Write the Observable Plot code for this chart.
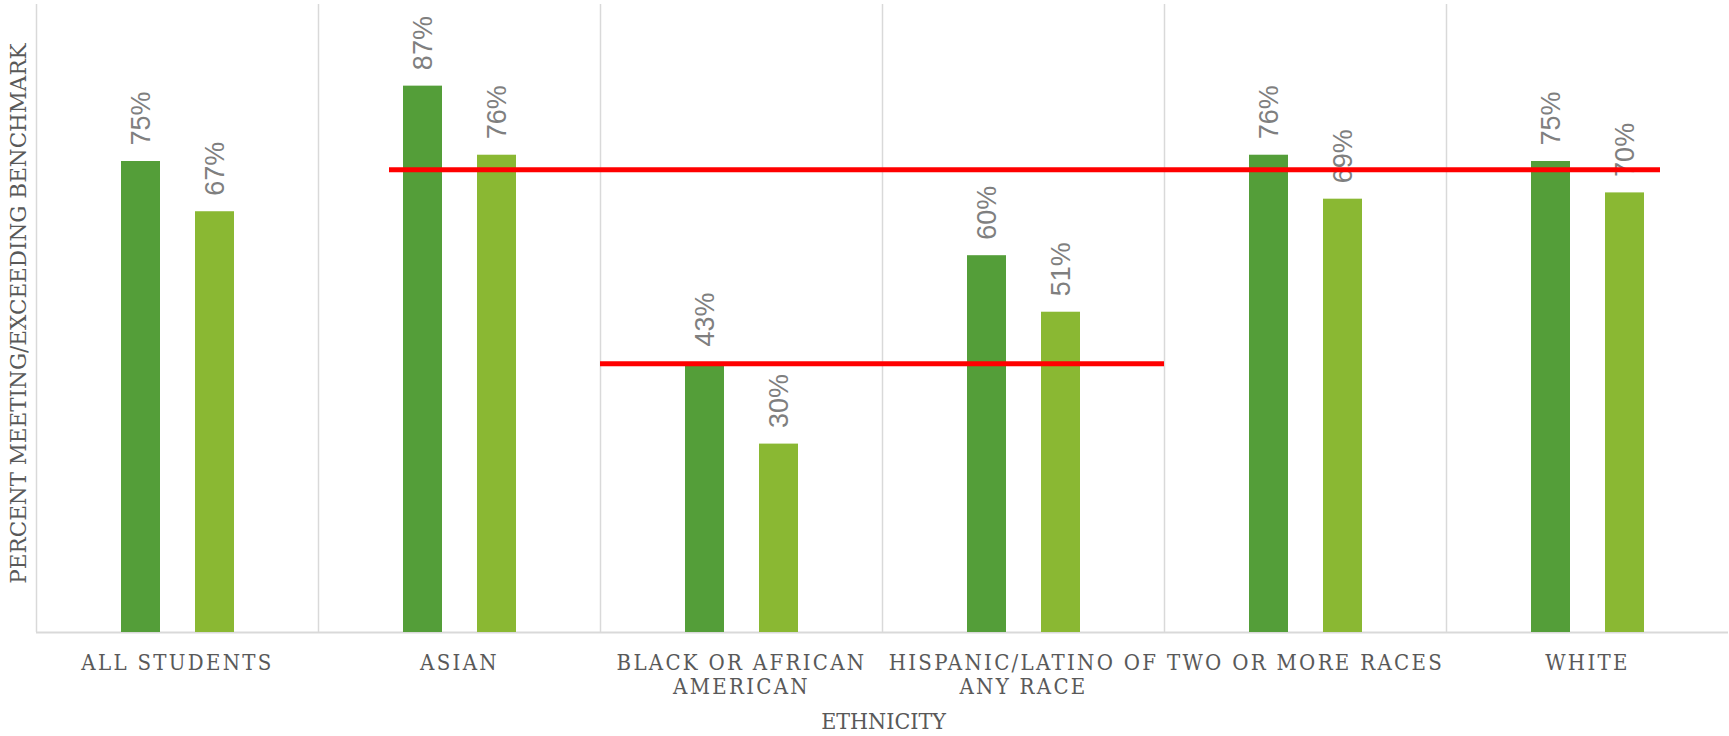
<!DOCTYPE html>
<html><head><meta charset="utf-8">
<script src="https://cdn.jsdelivr.net/npm/d3@7"></script>
<script src="https://cdn.jsdelivr.net/npm/@observablehq/plot@0.6"></script>
<style>
html,body{margin:0;padding:0;background:#fff;}
#chart svg{display:block;}
.xticks text{letter-spacing:2.3px;}
</style></head><body><div id="chart"></div>
<script>
// ---- data ----
const categories = ["ALL STUDENTS", "ASIAN", "BLACK OR AFRICAN AMERICAN", "HISPANIC/LATINO OF ANY RACE", "TWO OR MORE RACES", "WHITE"];
const tickLabels = ["ALL STUDENTS", "ASIAN", "BLACK OR AFRICAN\nAMERICAN", "HISPANIC/LATINO OF\nANY RACE", "TWO OR MORE RACES", "WHITE"];
const series1 = [75, 87, 43, 60, 76, 75];
const series2 = [67, 76, 30, 51, 69, 70];
const benchmarkValues = [73.7, 42.8];
const benchmarkFrom = ["ASIAN", "BLACK OR AFRICAN AMERICAN"];
const benchmarkTo = ["WHITE", "HISPANIC/LATINO OF ANY RACE"];
const xTitle = "ETHNICITY";
const yTitle = "PERCENT MEETING/EXCEEDING BENCHMARK";

// ---- layout / style ----
const W = 1729, H = 736, mL = 36, mR = 1, mT = 4, mB = 104;
const band = (W - mL - mR) / categories.length;
const dark = "#549E39", light = "#8AB833", gridC = "#D9D9D9", textC = "#595959", labelC = "#7F7F7F";
const serifC = "'DejaVu Serif Condensed', 'DejaVu Serif', serif";
const serif = "'DejaVu Serif', serif";
const sans = "'Liberation Sans', Arial, sans-serif";

const rows = categories.map((c, i) => ({category: c, s1: series1[i], s2: series2[i]}));
const labelOf = new Map(categories.map((c, i) => [c, tickLabels[i]]));
const bench = benchmarkValues.map((v, i) => ({value: v, from: benchmarkFrom[i], to: benchmarkTo[i]}));

const chart = Plot.plot({
  width: W, height: H,
  marginLeft: mL, marginRight: mR, marginTop: mT, marginBottom: mB,
  x: {domain: categories, padding: 0, axis: null},
  y: {domain: [0, 100], axis: null},
  marks: [
    Plot.ruleX(categories, {x: d => d, dx: -band / 2, y1: 0, y2: 100, stroke: gridC, strokeWidth: 1.5}),
    Plot.ruleY([0], {stroke: gridC, strokeWidth: 2}),
    Plot.barY(rows, {x: "category", y: "s1", fill: dark, insetLeft: 85, insetRight: band - 124}),
    Plot.barY(rows, {x: "category", y: "s2", fill: light, insetLeft: 159, insetRight: band - 198}),
    Plot.text(rows, {x: "category", y: "s1", text: d => d.s1 + "%", rotate: -90, textAnchor: "start",
      dx: 104.5 - band / 2, dy: -16, fill: labelC, fontSize: 27, fontFamily: sans}),
    Plot.text(rows, {x: "category", y: "s2", text: d => d.s2 + "%", rotate: -90, textAnchor: "start",
      dx: 178.5 - band / 2, dy: -16, fill: labelC, fontSize: 27, fontFamily: sans}),
    Plot.ruleY(bench.slice(0, 1), {y: "value", x1: "from", x2: "to", stroke: "#FF0000", strokeWidth: 5, insetLeft: 71, insetRight: 68}),
    Plot.ruleY(bench.slice(1, 2), {y: "value", x1: "from", x2: "to", stroke: "#FF0000", strokeWidth: 5}),
    Plot.axisX({className: "xticks", tickSize: 0, tickPadding: 20, tickFormat: d => labelOf.get(d),
      fontSize: 22, fontFamily: serifC, color: textC, lineHeight: 1.09, label: null}),
    Plot.text([xTitle], {frameAnchor: "bottom", textAnchor: "middle", lineAnchor: "middle", dx: 1, dy: 89,
      fill: textC, fontSize: 23, fontFamily: serifC}),
    Plot.text([yTitle], {frameAnchor: "left", textAnchor: "middle", lineAnchor: "middle", rotate: -90,
      dx: -17.5, dy: -5, fill: textC, fontSize: 21.5, fontFamily: serif})
  ]
});
document.getElementById("chart").appendChild(chart);
</script></body></html>
